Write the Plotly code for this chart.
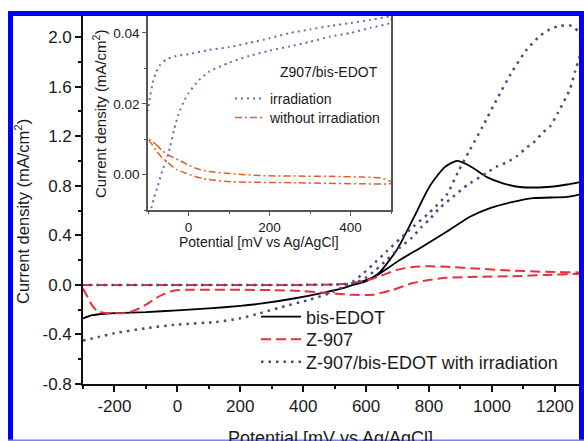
import plotly.graph_objects as go

# ---------------- data ----------------
# main plot: bis-EDOT (black solid)
bis_x = [-300, -270, -240, -200, -100, 0, 100, 200, 270, 370, 470, 530, 580, 620,
         643, 697, 749, 803, 850, 888, 930, 984, 1035, 1089, 1175, 1239, 1280, 1300,
         1300, 1280, 1239, 1131, 1067, 994, 930, 857, 780, 707, 643, 600, 560]
bis_y = [-0.27, -0.245, -0.235, -0.228, -0.22, -0.205, -0.19, -0.17, -0.15, -0.11, -0.06, -0.025, 0.02, 0.06,
         0.10, 0.28, 0.53, 0.80, 0.95, 1.00, 0.96, 0.87, 0.82, 0.79, 0.79, 0.81, 0.83, 0.84,
         0.75, 0.73, 0.71, 0.70, 0.67, 0.62, 0.55, 0.43, 0.31, 0.20, 0.09, 0.03, 0.00]

# main plot: Z-907 (red dashed)
z907_x = [-300, -285, -270, -255, -235, -200, -160, -130, -100, -70, -40, -10, 30, 100, 200, 300, 400,
          474, 557, 621, 685, 748, 800, 857, 962, 1067, 1175, 1280, 1300,
          1280, 1175, 1067, 962, 857, 802, 749, 697, 643, 621, 580, 540, 500, 400, 200, 0, -200, -300]
z907_y = [-0.03, -0.10, -0.17, -0.21, -0.225, -0.23, -0.225, -0.20, -0.16, -0.11, -0.07, -0.045, -0.04, -0.04, -0.04, -0.042, -0.05,
          -0.065, -0.08, -0.08, -0.04, 0.015, 0.04, 0.057, 0.065, 0.07, 0.08, 0.09, 0.095,
          0.10, 0.105, 0.115, 0.13, 0.146, 0.15, 0.145, 0.12, 0.07, 0.05, 0.025, 0.01, 0.003, 0.0, 0.0, 0.0, 0.0, 0.0]

# main plot: Z-907/bis-EDOT with irradiation (blue dotted)
irr_x = [-300, -250, -200, -100, 0, 121, 200, 261, 330, 420, 480, 525, 560, 590, 620, 665, 707, 750, 800,
         857, 892, 930, 971, 1016, 1064, 1111, 1153, 1190, 1217, 1255, 1275, 1290,
         1280, 1264, 1248, 1210, 1185, 1162, 1137, 1111, 1080, 1048, 1019, 987, 962, 924, 904, 876,
         834, 802, 777, 745, 707, 665, 630, 600, 570, 530, 400, 200, 0, -300]
irr_y = [-0.45, -0.42, -0.39, -0.35, -0.32, -0.30, -0.27, -0.23, -0.18, -0.12, -0.07, -0.02, 0.03, 0.09, 0.16, 0.27, 0.37, 0.47, 0.58,
         0.73, 0.91, 1.09, 1.28, 1.50, 1.72, 1.90, 2.01, 2.07, 2.09, 2.09, 2.04, 1.92,
         1.85, 1.72, 1.58, 1.39, 1.28, 1.23, 1.16, 1.11, 1.04, 0.99, 0.96, 0.91, 0.87, 0.81, 0.77, 0.71,
         0.62, 0.53, 0.47, 0.38, 0.30, 0.20, 0.12, 0.06, 0.02, 0.005, 0.0, 0.0, 0.0, 0.0]

# inset: Z907/bis-EDOT irradiation (dotted)
in_irr_x = [-98, -92, -85, -75, -65, -55, -45, -35, -25, -10, 0, 20, 50, 100, 150, 200, 250, 300, 350, 400, 450, 500,
            500, 450, 400, 350, 300, 250, 200, 150, 100, 50, 0, -30, -55, -70, -80, -88, -95, -100]
in_irr_y = [-0.011, -0.0095, -0.0065, -0.003, 0.001, 0.004, 0.008, 0.013, 0.017, 0.021, 0.023, 0.026, 0.029, 0.0316,
            0.0335, 0.035, 0.0362, 0.0375, 0.039, 0.040, 0.0415, 0.043,
            0.0445, 0.0437, 0.0428, 0.042, 0.041, 0.040, 0.0385, 0.0372, 0.036, 0.0352, 0.034, 0.0335, 0.0325,
            0.031, 0.029, 0.026, 0.022, 0.018]

# inset: without irradiation (dash-dot)
in_dark_x = [-100, -80, -65, -45, -22, 0, 20, 50, 102, 184, 350, 430, 475, 500,
             500, 432, 268, 102, 35, -5, -30, -47, -65, -80, -90, -100]
in_dark_y = [0.0102, 0.0085, 0.0068, 0.0052, 0.004, 0.0027, 0.0017, 0.0009, 0.0003, -0.0003, -0.0005, -0.0007, -0.001, -0.002,
             -0.0025, -0.0026, -0.0023, -0.002, -0.0011, 0.0003, 0.0015, 0.003, 0.0048, 0.0068, 0.0085, 0.0102]

# tick labels
main_xticks = [-200, 0, 200, 400, 600, 800, 1000, 1200]
main_xticktext = ["-200", "0", "200", "400", "600", "800", "1000", "1200"]
main_yticks = [-0.8, -0.4, 0.0, 0.4, 0.8, 1.2, 1.6, 2.0]
main_yticktext = ["-0.8", "-0.4", "0.0", "0.4", "0.8", "1.2", "1.6", "2.0"]
in_xticks = [0, 200, 400]
in_xticktext = ["0", "200", "400"]
in_yticks = [0.0, 0.02, 0.04]
in_yticktext = ["0.00", "0.02", "0.04"]

# ---------------- layout helpers (pixel -> paper) ----------------
W, H = 584, 441
L, R, T, B = 83, 580, 16, 384


def px(x):
    return (x - L) / (R - L)


def py(y):
    return (B - y) / (B - T)


FONT = "Liberation Sans, Arial, sans-serif"
TXT = "#1a1a1a"

fig = go.Figure()

fig.add_trace(go.Scatter(x=bis_x, y=bis_y, mode="lines", name="bis-EDOT", showlegend=True,
                         line=dict(color="#000000", width=1.8, shape="spline", smoothing=0.6),
                         legend="legend6"))
fig.add_trace(go.Scatter(x=z907_x, y=z907_y, mode="lines", name="Z-907", showlegend=True,
                         line=dict(color="#e8303c", width=2, dash="10px,5px", shape="spline", smoothing=0.6),
                         legend="legend3"))
fig.add_trace(go.Scatter(x=irr_x, y=irr_y, mode="lines", name="Z-907/bis-EDOT with irradiation", showlegend=True,
                         line=dict(color="#4a4a80", width=2.5, dash="2.5px,5px", shape="spline", smoothing=0.6),
                         legend="legend4"))

fig.add_trace(go.Scatter(x=in_irr_x, y=in_irr_y, mode="lines", name="irradiation", showlegend=True,
                         xaxis="x2", yaxis="y2",
                         line=dict(color="#6a6ab8", width=2, dash="2px,4px", shape="spline", smoothing=0.6),
                         legend="legend2"))
fig.add_trace(go.Scatter(x=in_dark_x, y=in_dark_y, mode="lines", name="without irradiation", showlegend=True,
                         xaxis="x2", yaxis="y2",
                         line=dict(color="#e0602a", width=1.5, dash="7px,3px,2px,3px", shape="spline", smoothing=0.6),
                         legend="legend5"))

axis_common = dict(showgrid=False, zeroline=False, showline=True, ticks="outside",
                   tickfont=dict(family=FONT, size=17, color=TXT))


def leg(xpx, ypx, size, iw):
    return dict(x=px(xpx), y=py(ypx), xanchor="left", yanchor="middle", bgcolor="rgba(0,0,0,0)",
                font=dict(family=FONT, size=size, color=TXT), itemwidth=iw, tracegroupgap=0,
                borderwidth=0, visible=True)


fig.update_layout(
    width=W, height=H,
    showlegend=True,
    margin=dict(l=L, r=W - R, t=T, b=H - B, pad=0),
    paper_bgcolor="white", plot_bgcolor="white",
    font=dict(family=FONT, color=TXT),
    xaxis=dict(axis_common, range=[-300, 1280], linecolor="#111", linewidth=1.6,
               tickvals=main_xticks, ticktext=main_xticktext, ticklen=6, tickwidth=1.5, tickcolor="#111",
               minor=dict(tickvals=[-300, -100, 100, 300, 500, 700, 900, 1100], ticklen=3.5, tickwidth=1.5,
                          tickcolor="#111", ticks="outside")),
    yaxis=dict(axis_common, range=[-0.8, 2.17], linecolor="#111", linewidth=1.6,
               tickvals=main_yticks, ticktext=main_yticktext, ticklen=6, tickwidth=1.5, tickcolor="#111",
               minor=dict(tickvals=[-0.6, -0.2, 0.2, 0.6, 1.0, 1.4, 1.8], ticklen=3.5, tickwidth=1.5,
                          tickcolor="#111", ticks="outside")),
    xaxis2=dict(axis_common, domain=[px(148), px(391)], anchor="y2", range=[-100, 500],
                linecolor="#555", linewidth=1.5, mirror=True,
                tickvals=in_xticks, ticktext=in_xticktext, ticklen=4, tickwidth=1.2, tickcolor="#555",
                tickfont=dict(family=FONT, size=13.5, color=TXT),
                minor=dict(tickvals=[-100, 100, 300, 500], ticklen=2.5, tickwidth=1.2, tickcolor="#555",
                           ticks="outside")),
    yaxis2=dict(axis_common, domain=[py(210), 1.0], anchor="x2", range=[-0.01, 0.0448],
                linecolor="#555", linewidth=1.5, mirror=True,
                tickvals=in_yticks, ticktext=in_yticktext, ticklen=4, tickwidth=1.2, tickcolor="#555",
                tickfont=dict(family=FONT, size=13.5, color=TXT),
                minor=dict(tickvals=[-0.01, 0.01, 0.03], ticklen=2.5, tickwidth=1.2, tickcolor="#555",
                           ticks="outside")),
    legend6=leg(256, 317, 18, 40),
    legend3=leg(256, 339.5, 18, 40),
    legend4=leg(256, 362, 18, 40),
    legend2=leg(230, 99, 14, 30),
    legend5=leg(230, 118, 14, 30),
    annotations=[
        dict(text="Current density (mA/cm<sup>2</sup>)", x=px(22), y=py(212), xref="paper", yref="paper",
             textangle=-90, showarrow=False, xanchor="center", yanchor="middle",
             font=dict(family=FONT, size=16.5, color=TXT)),
        dict(text="Potential [mV vs Ag/AgCl]", x=px(330), y=py(437.5), xref="paper", yref="paper",
             showarrow=False, xanchor="center", yanchor="middle",
             font=dict(family=FONT, size=18, color=TXT)),
        dict(text="Current density (mA/cm<sup>2</sup>)", x=px(100), y=py(114), xref="paper", yref="paper",
             textangle=-90, showarrow=False, xanchor="center", yanchor="middle",
             font=dict(family=FONT, size=15, color=TXT)),
        dict(text="Potential [mV vs Ag/AgCl]", x=px(259), y=py(242), xref="paper", yref="paper",
             showarrow=False, xanchor="center", yanchor="middle",
             font=dict(family=FONT, size=14, color=TXT)),
        dict(text="Z907/bis-EDOT", x=px(278), y=py(72), xref="paper", yref="paper",
             showarrow=False, xanchor="left", yanchor="middle",
             font=dict(family=FONT, size=14, color=TXT)),
    ],
    shapes=[
        # blue frame around the figure
        dict(type="rect", xref="paper", yref="paper", x0=px(8), x1=px(13), y0=py(441), y1=py(11),
             fillcolor="#0000ff", line=dict(width=0), layer="above"),
        dict(type="rect", xref="paper", yref="paper", x0=px(8), x1=px(584), y0=py(16), y1=py(11),
             fillcolor="#0000ff", line=dict(width=0), layer="above"),
        dict(type="rect", xref="paper", yref="paper", x0=px(579), x1=px(584), y0=py(441), y1=py(11),
             fillcolor="#0000ff", line=dict(width=0), layer="above"),
        dict(type="rect", xref="paper", yref="paper", x0=px(8), x1=px(584), y0=py(441), y1=py(439.5),
             fillcolor="#8080ff", line=dict(width=0), layer="above"),
    ],
)

fig.write_html("out.html")
